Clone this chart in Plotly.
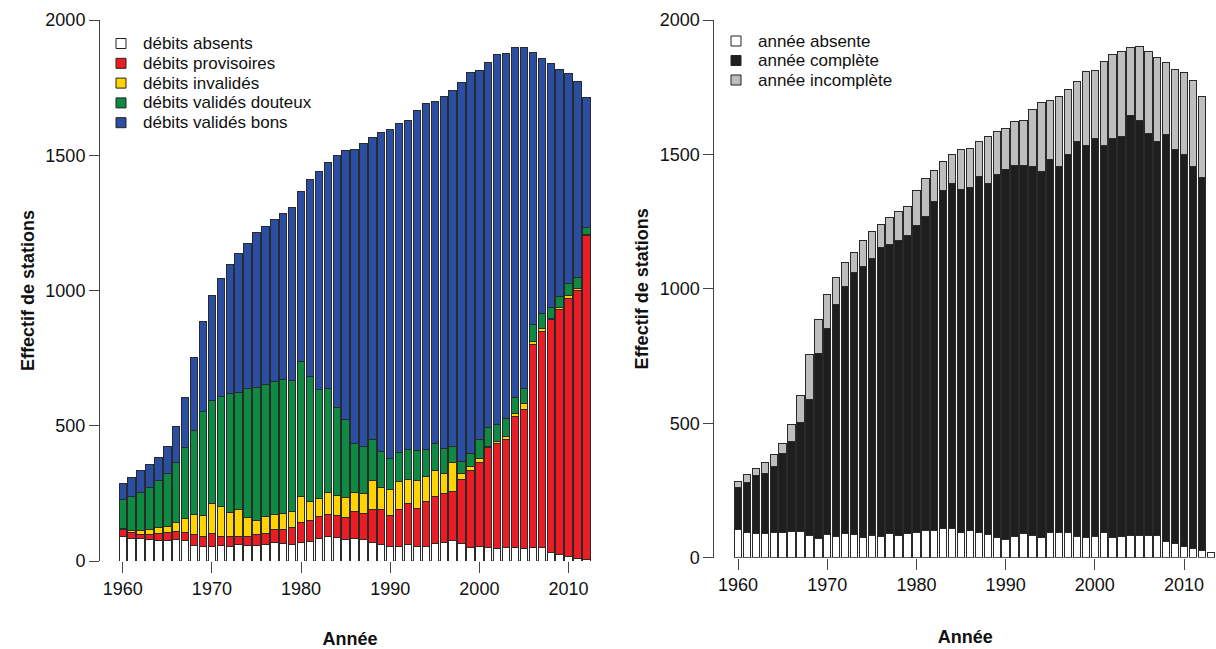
import plotly.graph_objects as go

# ---------------- data ----------------
years_left = list(range(1960, 2013))
years_right = list(range(1960, 2014))

debits_absents = [92, 85, 83, 79, 76, 76, 79, 74, 59, 54, 55, 57, 55, 60, 57, 59, 60, 67, 64, 62, 69, 71, 85, 89,
                  86, 81, 84, 81, 70, 62, 52, 55, 62, 55, 55, 63, 67, 75, 63, 49, 52, 51, 46, 49, 51, 47, 51, 49,
                  32, 23, 17, 11, 5]
debits_provisoires = [24, 19, 16, 20, 25, 28, 31, 33, 38, 35, 46, 32, 34, 32, 33, 38, 41, 51, 53, 62, 74, 79, 80, 82,
                      83, 79, 100, 94, 120, 129, 116, 134, 152, 138, 164, 177, 184, 181, 238, 286, 314, 368, 389,
                      401, 484, 512, 750, 799, 860, 907, 955, 990, 1198]
debits_invalides = [6, 9, 13, 17, 23, 22, 34, 49, 74, 79, 111, 114, 92, 100, 69, 53, 62, 53, 58, 58, 94, 71, 65, 82,
                    74, 73, 71, 76, 109, 79, 97, 106, 89, 104, 92, 96, 71, 110, 24, 16, 12, 5, 5, 11, 12, 23, 10,
                    10, 4, 7, 8, 8, 5]
debits_douteux = [105, 124, 142, 154, 173, 197, 220, 265, 310, 385, 383, 405, 438, 430, 478, 492, 491, 493, 495, 485,
                  501, 462, 403, 383, 323, 291, 179, 173, 150, 135, 115, 105, 111, 111, 103, 98, 95, 58, 42, 45,
                  71, 71, 65, 65, 56, 55, 63, 56, 41, 42, 46, 40, 26]
debits_bons = [59, 71, 80, 86, 86, 102, 133, 183, 273, 332, 385, 437, 478, 514, 537, 573, 583, 598, 614, 639, 627,
               727, 808, 837, 934, 994, 1088, 1121, 1117, 1180, 1216, 1219, 1213, 1258, 1278, 1265, 1300, 1316,
               1403, 1411, 1363, 1349, 1367, 1352, 1295, 1262, 1007, 944, 903, 838, 777, 724, 480]

annee_absente = [104, 94, 89, 89, 92, 92, 97, 98, 83, 73, 85, 79, 89, 87, 77, 83, 80, 89, 83, 89, 92, 100, 103, 108,
                 110, 95, 103, 93, 87, 75, 67, 80, 89, 84, 75, 94, 94, 94, 80, 75, 80, 93, 75, 79, 82, 83, 83, 82,
                 61, 51, 42, 36, 27, 19]
annee_complete = [156, 186, 217, 224, 248, 297, 336, 406, 506, 687, 768, 861, 921, 973, 1008, 1029, 1072, 1077,
                  1097, 1111, 1143, 1168, 1221, 1258, 1283, 1275, 1273, 1324, 1306, 1349, 1378, 1378, 1371, 1370,
                  1360, 1386, 1361, 1407, 1467, 1459, 1478, 1441, 1486, 1486, 1561, 1544, 1493, 1466, 1514, 1468,
                  1458, 1418, 1388, None]
annee_incomplete = [23, 28, 27, 42, 44, 34, 62, 99, 166, 125, 127, 104, 87, 77, 93, 103, 87, 99, 106, 108, 131, 144,
                    117, 106, 107, 149, 146, 131, 175, 162, 152, 163, 166, 213, 259, 220, 262, 240, 225, 274, 255,
                    311, 312, 316, 256, 273, 306, 313, 266, 297, 304, 320, 300, None]

x_ticks = [1960, 1970, 1980, 1990, 2000, 2010]
y_ticks = [0, 500, 1000, 1500, 2000]

left_series = [
    ("débits absents", debits_absents, "#FFFFFF"),
    ("débits provisoires", debits_provisoires, "#EC1C24"),
    ("débits invalidés", debits_invalides, "#FFD400"),
    ("débits validés douteux", debits_douteux, "#0E8A43"),
    ("débits validés bons", debits_bons, "#2A4EA2"),
]
right_series = [
    ("année absente", annee_absente, "#FFFFFF"),
    ("année complète", annee_complete, "#1E1E1E"),
    ("année incomplète", annee_incomplete, "#BEBEBE"),
]

# ---------------- figure ----------------
W, H = 1216, 649
FONT = "Liberation Sans, Arial, sans-serif"
BAR_W = 0.83
OUTLINE = dict(color="#2A2A2A", width=1)


def px_x(p):
    """window pixel x -> paper fraction"""
    return p / W


def px_y(p):
    """window pixel y (from top) -> paper fraction"""
    return 1 - p / H


fig = go.Figure()
for name, vals, col in left_series:
    fig.add_trace(go.Bar(x=years_left, y=vals, name=name, width=BAR_W,
                         marker=dict(color=col, line=OUTLINE),
                         xaxis="x", yaxis="y", showlegend=False))
for name, vals, col in right_series:
    fig.add_trace(go.Bar(x=years_right, y=vals, name=name, width=BAR_W,
                         marker=dict(color=col, line=OUTLINE),
                         xaxis="x2", yaxis="y2", showlegend=False))

axis_common = dict(showgrid=False, zeroline=False, ticks="outside", tickcolor="#444",
                   automargin=False, tickfont=dict(family=FONT, size=18, color="#111"))
title_font = dict(family=FONT, size=18, color="#111", weight="bold")

PX_PER_YEAR_R = 8.92
fig.update_layout(
    width=W, height=H,
    margin=dict(l=0, r=0, t=0, b=0, autoexpand=False),
    paper_bgcolor="white", plot_bgcolor="white",
    barmode="stack", bargap=0,
    xaxis=dict(domain=[px_x(100), px_x(600)], range=[1957.45, 2013.53], tickvals=x_ticks,
               ticklen=11, showline=False, anchor="y",
               title=dict(text="Année", font=title_font, standoff=36), **axis_common),
    yaxis=dict(domain=[px_y(561), px_y(20)], range=[0, 2000], tickvals=y_ticks,
               ticklen=10, showline=True, linecolor="#444", linewidth=1, anchor="x",
               title=dict(text="Effectif de stations", font=title_font, standoff=6), **axis_common),
    xaxis2=dict(domain=[px_x(714.3), px_x(1216)],
                range=[1957.34, 1957.34 + (1216 - 714.3) / PX_PER_YEAR_R],
                tickvals=x_ticks, ticklen=11, showline=False, anchor="y2",
                title=dict(text="Année", font=title_font, standoff=36), **axis_common),
    yaxis2=dict(domain=[px_y(557.7), px_y(20)], range=[0, 2000], tickvals=y_ticks,
                ticklen=10, showline=True, linecolor="#444", linewidth=1, anchor="x2",
                title=dict(text="Effectif de stations", font=title_font, standoff=6), **axis_common),
)

# x-axis baselines (R style: from first to last tick)
for xr, yr in (("x", "y"), ("x2", "y2")):
    fig.add_shape(type="line", xref=xr, yref=yr, x0=x_ticks[0], x1=x_ticks[-1], y0=0, y1=0,
                  line=dict(color="#444", width=1), layer="below")


# legends drawn as keys + text (R-style compact legend)
def add_legend(series, box_cx, text_x, y0, dy):
    for i, (name, _vals, col) in enumerate(series):
        cy = y0 + i * dy
        fig.add_shape(type="rect", xref="paper", yref="paper",
                      x0=px_x(box_cx - 5), x1=px_x(box_cx + 5),
                      y0=px_y(cy + 5), y1=px_y(cy - 5),
                      fillcolor=col, line=dict(color="#222", width=1))
        fig.add_annotation(xref="paper", yref="paper", x=px_x(text_x), y=px_y(cy),
                           xanchor="left", yanchor="middle", text=name, showarrow=False,
                           font=dict(family=FONT, size=17, color="#111"))


add_legend(left_series, 121, 141, 43.5, 19.8)
add_legend(right_series, 736, 756, 41, 19.5)

fig.write_html(
    "out.html",
    config={"displayModeBar": False, "staticPlot": True},
    post_script="document.body.style.margin='0px';"
                "document.documentElement.style.overflow='hidden';"
                "document.body.style.overflow='hidden';",
)
